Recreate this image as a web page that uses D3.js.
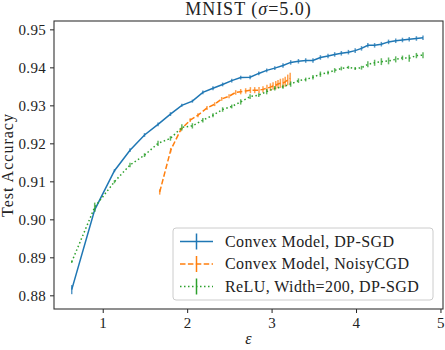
<!DOCTYPE html>
<html>
<head>
<meta charset="utf-8">
<script src="https://cdn.jsdelivr.net/npm/d3@7"></script>
<style>
  body { margin: 0; background: #fff; }
  text { font-family: "Liberation Serif", "DejaVu Serif", serif; fill: #222; }
</style>
</head>
<body>
<script>
// epsilon values shared by the two DP-SGD runs
var eps = [0.633, 0.905, 1.139, 1.323, 1.495, 1.655, 1.802, 1.937, 2.062, 2.186,
  2.306, 2.42, 2.528, 2.634, 2.745, 2.848, 2.942, 3.038, 3.135, 3.226,
  3.318, 3.404, 3.49, 3.578, 3.668, 3.747, 3.826, 3.91, 3.99, 4.065,
  4.14, 4.22, 4.30, 4.385, 4.47, 4.55, 4.63, 4.715, 4.793];

var convexSgd = [0.8815, 0.9025, 0.9128, 0.9182, 0.9222, 0.9250, 0.9277, 0.9300, 0.9311, 0.9334,
  0.9345, 0.9355, 0.9365, 0.9373, 0.9374, 0.9384, 0.9392, 0.9398, 0.9405, 0.9413,
  0.9416, 0.9418, 0.9418, 0.9426, 0.9430, 0.9434, 0.9437, 0.9440, 0.9444, 0.9450,
  0.9458, 0.9458, 0.9461, 0.9467, 0.9470, 0.9472, 0.9474, 0.9476, 0.9478];
var convexSgdErr = [0.0012, 0.0005, 0.0004, 0.0005, 0.0005, 0.0005, 0.0005, 0.0004, 0.0004, 0.0005,
  0.0005, 0.0005, 0.0005, 0.0005, 0.0005, 0.0005, 0.0005, 0.0005, 0.0006, 0.0006,
  0.0006, 0.0006, 0.0006, 0.0006, 0.0006, 0.0006, 0.0006, 0.0006, 0.0006, 0.0006,
  0.0006, 0.0006, 0.0006, 0.0006, 0.0006, 0.0006, 0.0006, 0.0006, 0.0006];

var reluSgd = [0.8888, 0.9032, 0.9099, 0.9143, 0.9169, 0.9200, 0.9213, 0.9242, 0.9246, 0.9261,
  0.9274, 0.9289, 0.9297, 0.9309, 0.9323, 0.9327, 0.9336, 0.9345, 0.9349, 0.9356,
  0.9365, 0.9368, 0.9374, 0.9382, 0.9386, 0.9392, 0.9397, 0.9400, 0.9397, 0.9399,
  0.9408, 0.9412, 0.9415, 0.9417, 0.9421, 0.9425, 0.9424, 0.9431, 0.9432];
var reluSgdErr = [0.0003, 0.0012, 0.0004, 0.0006, 0.0005, 0.0007, 0.0006, 0.0008, 0.0007, 0.0006,
  0.0005, 0.0006, 0.0005, 0.0007, 0.0006, 0.0005, 0.0007, 0.0006, 0.0005, 0.0007,
  0.0006, 0.0005, 0.0006, 0.0007, 0.0005, 0.0006, 0.0005, 0.0004, 0.0004, 0.0005,
  0.0008, 0.0008, 0.0009, 0.0009, 0.0008, 0.0006, 0.0009, 0.0007, 0.0008];

// NoisyCGD has its own epsilon schedule
var epsCgd = [1.675, 1.805, 1.924, 2.036, 2.128, 2.235, 2.326, 2.409, 2.496, 2.575,
  2.634, 2.693, 2.749, 2.80, 2.851, 2.898, 2.945, 2.986, 3.017, 3.049,
  3.076, 3.104, 3.135, 3.161, 3.191, 3.220];
var convexCgd = [0.9072, 0.9182, 0.9236, 0.9261, 0.9274, 0.9293, 0.9303, 0.9317, 0.9324, 0.9334,
  0.9336, 0.9338, 0.9340, 0.9340, 0.9340, 0.9342, 0.9345, 0.9348, 0.9351, 0.9353,
  0.9356, 0.9358, 0.9359, 0.9362, 0.9367, 0.9371];
var convexCgdErr = [0.0007, 0.0006, 0.0005, 0.0005, 0.0005, 0.0005, 0.0005, 0.0005, 0.0005, 0.0006,
  0.0007, 0.0007, 0.0008, 0.0008, 0.0008, 0.0008, 0.0009, 0.0010, 0.0010, 0.0011,
  0.0011, 0.0012, 0.0012, 0.0013, 0.0014, 0.0015];

var xTicks = [1, 2, 3, 4, 5];
var yTicks = [0.88, 0.89, 0.90, 0.91, 0.92, 0.93, 0.94, 0.95];
var seriesNames = ["Convex Model, DP-SGD", "Convex Model, NoisyCGD", "ReLU, Width=200, DP-SGD"];
var colors = ["#1f77b4", "#ff7f0e", "#2ca02c"];
var dashes = [null, "5.5,2.4", "1.5,2.5"];

var w = 445, h = 350;
var margin = {top: 21, right: 2, bottom: 41, left: 54};

var x = d3.scaleLinear().domain([0.423, 5.03]).range([margin.left, w - margin.right]);
var y = d3.scaleLinear().domain([0.8764, 0.9522]).range([h - margin.bottom, margin.top]);

var svg = d3.select('body').append('svg')
  .attr('width', w)
  .attr('height', h);

svg.append('clipPath').attr('id', 'plotclip')
  .append('rect')
  .attr('x', margin.left).attr('y', margin.top)
  .attr('width', w - margin.right - margin.left)
  .attr('height', h - margin.bottom - margin.top);

var series = [
  {xs: eps, ys: convexSgd, err: convexSgdErr},
  {xs: epsCgd, ys: convexCgd, err: convexCgdErr},
  {xs: eps, ys: reluSgd, err: reluSgdErr}
];

var plot = svg.append('g').attr('clip-path', 'url(#plotclip)');

series.forEach(function(s, k){
  var pts = s.xs.map(function(e, i){ return {x: e, y: s.ys[i], e: s.err[i]}; });
  var g = plot.append('g');
  // error bars, no caps
  g.selectAll('.err')
    .data(pts)
    .enter().append('line')
    .attr('x1', function(d){ return x(d.x); })
    .attr('x2', function(d){ return x(d.x); })
    .attr('y1', function(d){ return y(d.y - d.e); })
    .attr('y2', function(d){ return y(d.y + d.e); })
    .attr('stroke', colors[k])
    .attr('stroke-opacity', 0.75)
    .attr('stroke-width', 1.5);
  g.append('path')
    .datum(pts)
    .attr('fill', 'none')
    .attr('stroke', colors[k])
    .attr('stroke-width', 1.5)
    .attr('stroke-dasharray', dashes[k])
    .attr('d', d3.line().x(function(d){ return x(d.x); }).y(function(d){ return y(d.y); }));
});

// axes
var xAxis = svg.append('g')
  .attr('transform', 'translate(0,' + (h - margin.bottom) + ')')
  .call(d3.axisBottom(x).tickValues(xTicks).tickSize(4).tickPadding(4).tickFormat(d3.format('d')));
var yAxis = svg.append('g')
  .attr('transform', 'translate(' + margin.left + ',0)')
  .call(d3.axisLeft(y).tickValues(yTicks).tickSize(4).tickPadding(4).tickFormat(d3.format('.2f')));
[xAxis, yAxis].forEach(function(a){
  a.select('.domain').remove();
  a.selectAll('.tick line').attr('stroke', '#222').attr('stroke-width', 1);
  a.selectAll('.tick text').style('font-size', '15px').style('letter-spacing', '0.3px').attr('fill', '#222');
});

// frame
svg.append('rect')
  .attr('x', margin.left).attr('y', margin.top)
  .attr('width', w - margin.right - margin.left)
  .attr('height', h - margin.bottom - margin.top)
  .attr('fill', 'none')
  .attr('stroke', '#333')
  .attr('stroke-width', 1.1);

// title and labels
svg.append('text')
  .attr('x', (margin.left + w - margin.right) / 2)
  .attr('y', 15)
  .attr('text-anchor', 'middle')
  .style('font-size', '18px')
  .style('letter-spacing', '1px')
  .html('MNIST (<tspan font-style="italic">σ</tspan>=5.0)');

svg.append('text')
  .attr('x', (margin.left + w - margin.right) / 2)
  .attr('y', 344)
  .attr('text-anchor', 'middle')
  .style('font-size', '16px')
  .style('font-style', 'italic')
  .text('ε');

svg.append('text')
  .attr('transform', 'translate(13,' + ((margin.top + h - margin.bottom) / 2) + ') rotate(-90)')
  .attr('text-anchor', 'middle')
  .style('font-size', '16px')
  .style('letter-spacing', '1px')
  .text('Test Accuracy');

// legend
var legend = svg.append('g').attr('transform', 'translate(173,228)');
legend.append('rect')
  .attr('width', 260).attr('height', 72)
  .attr('rx', 3)
  .attr('fill', '#fff').attr('fill-opacity', 0.8)
  .attr('stroke', '#ccc');

seriesNames.forEach(function(name, k){
  var cy = 13.5 + k * 22.5;
  var row = legend.append('g').attr('transform', 'translate(0,' + cy + ')');
  row.append('line')
    .attr('x1', 7).attr('x2', 40).attr('y1', 0).attr('y2', 0)
    .attr('stroke', colors[k]).attr('stroke-width', 1.5)
    .attr('stroke-dasharray', dashes[k]);
  row.append('line')
    .attr('x1', 23.5).attr('x2', 23.5).attr('y1', -8).attr('y2', 8)
    .attr('stroke', colors[k]).attr('stroke-width', 1.5);
  row.append('text')
    .attr('x', 52).attr('y', 5)
    .style('font-size', '16px')
    .style('letter-spacing', '0.4px')
    .text(name);
});
</script>
</body>
</html>
